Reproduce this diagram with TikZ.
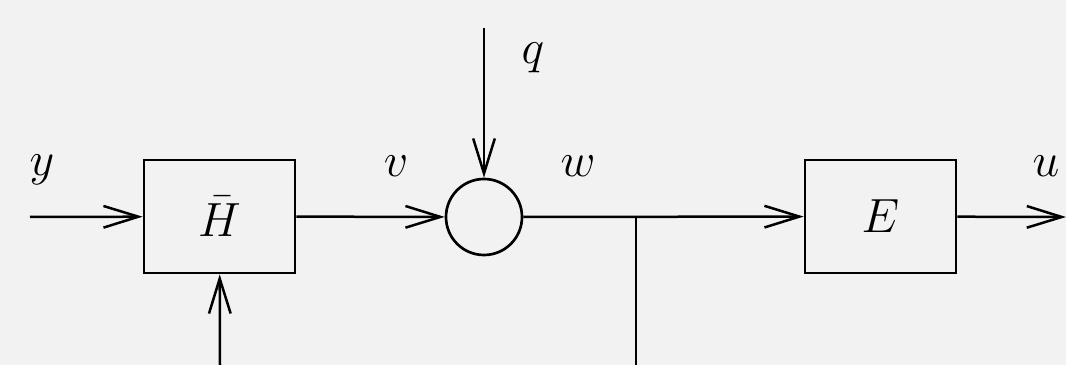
\documentclass[tikz,border=0pt]{standalone}
\usepackage{amsmath,amssymb}
\usepackage{tikz}
\usetikzlibrary{arrows.meta,positioning,calc}
\usepackage{xcolor}
\definecolor{bgpage}{HTML}{F2F2F2}

\begin{document}
\begin{tikzpicture}[x=0.3pt,y=-0.3pt,
    sig/.style={line width=0.75pt, -{Straight Barb[length=10.5pt,width=6.5pt,line width=0.75pt]}},
    wire/.style={line width=0.75pt},
    blk/.style={draw, line width=0.8pt, minimum width=45.3pt, minimum height=33.9pt, inner sep=0pt, font=\Large},
    summ/.style={draw, circle, line width=0.8pt, minimum size=22.8pt, inner sep=0pt},
    lbl/.style={font=\Large}]
    % 背景
    \fill[bgpage] (0,0) rectangle (1066,365);
    \useasboundingbox (0,0) rectangle (1066,365);

    % 方框与求和点
    \node[blk] (hbar) at (219.5,216.5) {$\bar{H}$};
    \node[summ] (sum) at (484,217) {};
    \node[blk] (ebox) at (880.5,216.5) {$E$};

    % 端点
    \coordinate (yin) at (30,217);
    \coordinate (uout) at (1066,217);
    \coordinate (qin) at (484,28);
    \coordinate (hin) at (220,365);
    \coordinate (branch) at (636,217);
    \coordinate (wdown) at (636,365);

    % 信号线
    \draw[sig] (yin) -- (hbar);
    \draw[sig] (hin) -- (hbar);
    \draw[sig] (hbar) -- (sum);
    \draw[sig] (qin) -- (sum);
    \draw[sig] (sum) -- (ebox);
    \draw[sig] (ebox) -- (uout);
    \draw[wire] (branch) -- (wdown);

    % 标签
    \node[lbl] (ylbl) at (42,170) {$y$};
    \node[lbl] (vlbl) at (396,166) {$v$};
    \node[lbl] (qlbl) at (533,58) {$q$};
    \node[lbl] (wlbl) at (578,166) {$w$};
    \node[lbl] (ulbl) at (1046,166) {$u$};
\end{tikzpicture}
\end{document}
